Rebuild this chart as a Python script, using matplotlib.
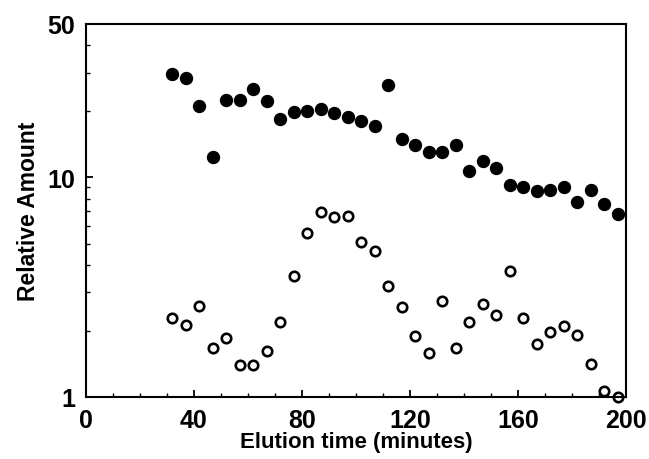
import matplotlib
matplotlib.use("Agg")
import matplotlib.pyplot as plt
from matplotlib.ticker import MultipleLocator, LogLocator, NullFormatter, FixedLocator, FixedFormatter

plt.rcParams['font.family'] = ['Liberation Sans', 'DejaVu Sans']
plt.rcParams['font.weight'] = 'bold'

# elution times (minutes)
time = [32, 37, 42, 47, 52, 57, 62, 67, 72, 77, 82, 87, 92, 97, 102, 107, 112,
        117, 122, 127, 132, 137, 142, 147, 152, 157, 162, 167, 172, 177, 182,
        187, 192, 197]

# filled circles
filled = [29.6, 28.4, 21.2, 12.4, 22.5, 22.5, 25.3, 22.3, 18.5, 19.9, 20.1,
          20.5, 19.7, 18.9, 18.0, 17.2, 26.4, 15.0, 14.1, 13.1, 13.1, 14.1,
          10.7, 11.9, 11.0, 9.25, 9.05, 8.68, 8.77, 9.0, 7.73, 8.77, 7.57, 6.82]

# open circles
opened = [2.29, 2.13, 2.60, 1.67, 1.86, 1.40, 1.40, 1.62, 2.20, 3.56, 5.59,
          6.96, 6.61, 6.68, 5.08, 4.62, 3.20, 2.57, 1.90, 1.59, 2.74, 1.67,
          2.20, 2.65, 2.36, 3.75, 2.29, 1.74, 1.98, 2.11, 1.92, 1.41, 1.06, 1.00]

xticks = [0, 40, 80, 120, 160, 200]
yticks = [1, 10, 50]

fig = plt.figure(figsize=(6.49, 4.6), dpi=100)
ax = fig.add_axes([0.1325, 0.1348, 0.8321, 0.8109])

ax.plot(time, filled, 'o', color='black', markersize=8.6, clip_on=False)
ax.plot(time, opened, 'o', markerfacecolor='white', markeredgecolor='black',
        markersize=6.8, markeredgewidth=1.9, clip_on=False)

ax.set_yscale('log')
ax.set_xlim(0, 200)
ax.set_ylim(1, 50)

ax.xaxis.set_major_locator(FixedLocator(xticks))
ax.xaxis.set_minor_locator(MultipleLocator(10))
ax.yaxis.set_major_locator(FixedLocator(yticks))
ax.yaxis.set_major_formatter(FixedFormatter([str(v) for v in yticks]))
ax.yaxis.set_minor_locator(LogLocator(base=10, subs=range(2, 10)))
ax.yaxis.set_minor_formatter(NullFormatter())

ax.tick_params(which='both', direction='in', top=False, right=False)
ax.tick_params(which='major', length=5, width=1.3, labelsize=18, pad=8)
ax.tick_params(which='minor', length=3, width=1.0)

for s in ax.spines.values():
    s.set_linewidth(1.5)

ax.set_xlabel('Elution time (minutes)', fontsize=16, fontweight='bold', labelpad=-1)
ax.set_ylabel('Relative Amount', fontsize=16.5, fontweight='bold', labelpad=5)

fig.savefig('out.png', dpi=100)
